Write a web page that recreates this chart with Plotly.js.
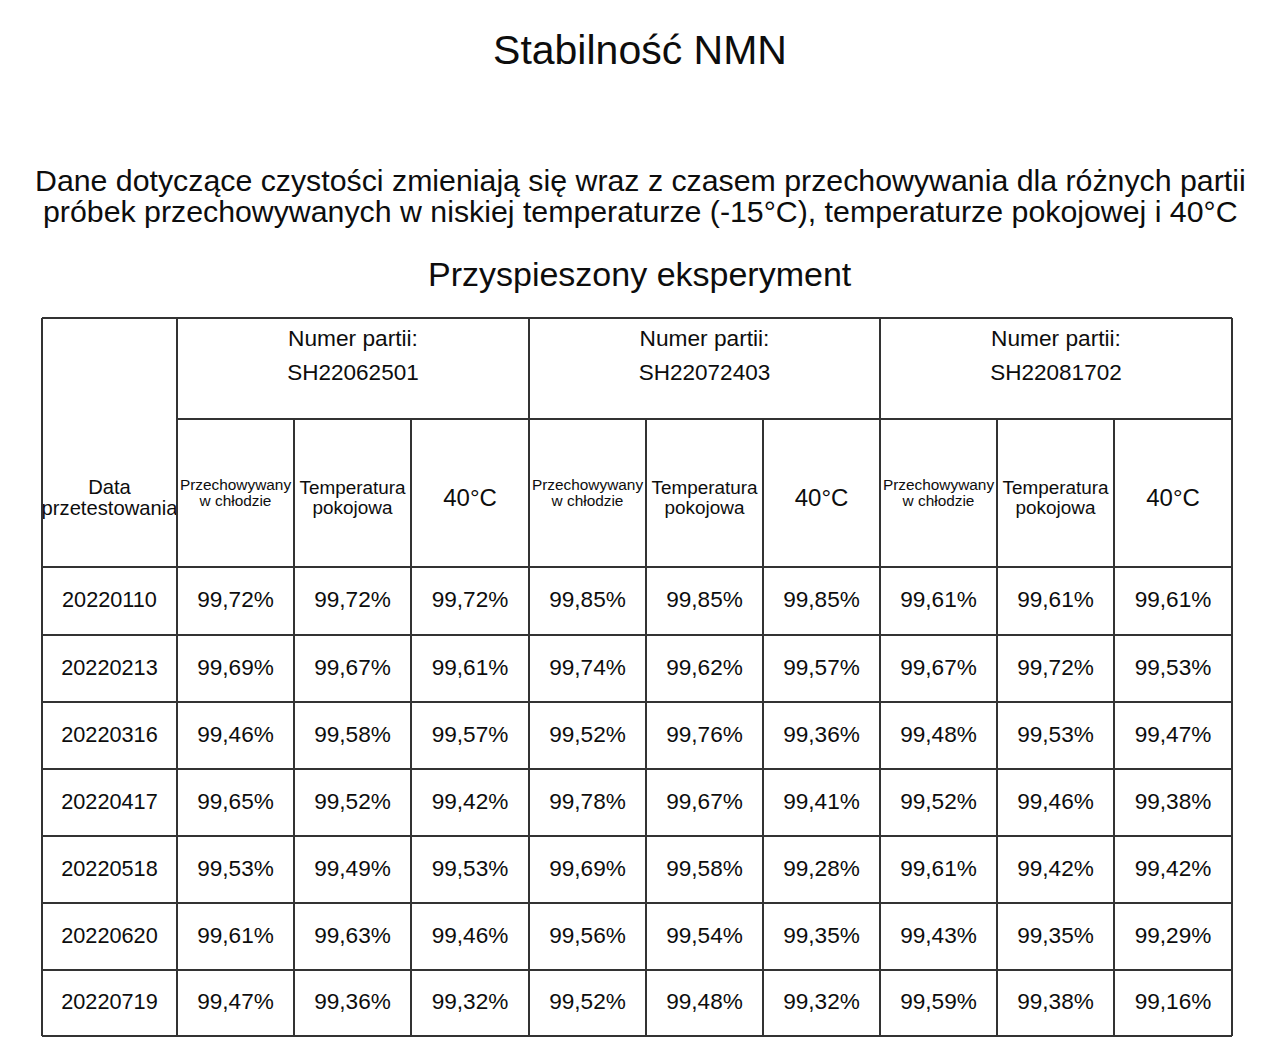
<!DOCTYPE html>
<html>
<head>
<meta charset="utf-8">
<script src="https://cdn.plot.ly/plotly-3.0.1.min.js"></script>
<style>html,body{margin:0;padding:0;background:#fff;}#chart{width:1280px;height:1053px;}</style>
</head>
<body>
<div id="chart"></div>
<script>
// ---- data ----
const dates = ['20220110','20220213','20220316','20220417','20220518','20220620','20220719'];
const batches = ['SH22062501','SH22072403','SH22081702'];
const conditions = ['Przechowywany<br>w chłodzie','Temperatura<br>pokojowa','40°C'];
const batchLabel = 'Numer partii:';
const dateHeader = 'Data<br>przetestowania';
const b1Cold = [99.72, 99.69, 99.46, 99.65, 99.53, 99.61, 99.47];
const b1Room = [99.72, 99.67, 99.58, 99.52, 99.49, 99.63, 99.36];
const b1Hot  = [99.72, 99.61, 99.57, 99.42, 99.53, 99.46, 99.32];
const b2Cold = [99.85, 99.74, 99.52, 99.78, 99.69, 99.56, 99.52];
const b2Room = [99.85, 99.62, 99.76, 99.67, 99.58, 99.54, 99.48];
const b2Hot  = [99.85, 99.57, 99.36, 99.41, 99.28, 99.35, 99.32];
const b3Cold = [99.61, 99.67, 99.48, 99.52, 99.61, 99.43, 99.59];
const b3Room = [99.61, 99.72, 99.53, 99.46, 99.42, 99.35, 99.38];
const b3Hot  = [99.61, 99.53, 99.47, 99.38, 99.42, 99.29, 99.16];
const titleText = 'Stabilność NMN';
const subtitle1 = 'Dane dotyczące czystości zmieniają się wraz z czasem przechowywania dla różnych partii';
const subtitle2 = 'próbek przechowywanych w niskiej temperaturze (-15°C), temperaturze pokojowej i 40°C';
const subtitle3 = 'Przyspieszony eksperyment';

// ---- layout geometry (page-pixel axis) ----
const colEdges = [42, 177, 294, 411, 529, 646, 763, 880, 997, 1114, 1232];
const rowEdges = [567, 635, 702, 769, 836, 903, 970, 1036];
const headTop = 318, headMid = 419, headBot = 567;
const lineColor = '#333333';
const textColor = '#0d0d0d';
const FONT = '"Liberation Sans", Arial, sans-serif';

const series = [b1Cold, b1Room, b1Hot, b2Cold, b2Room, b2Hot, b3Cold, b3Room, b3Hot];
const fmt = v => v.toFixed(2).replace('.', ',') + '%';
const mid = (a, b) => (a + b) / 2;
const rowCenters = dates.map((d, i) => mid(rowEdges[i], rowEdges[i + 1]));

const textTrace = (x, y, text, size) => ({
  type: 'scatter', mode: 'text', hoverinfo: 'skip', showlegend: false,
  x, y, text, textposition: 'middle center',
  textfont: {family: FONT, size, color: textColor}
});

const traces = [];
// date column
traces.push(textTrace(dates.map(() => mid(colEdges[0], colEdges[1])), rowCenters.map(y => y + 1), dates, 21.7));
// value columns
series.forEach((vals, c) => {
  traces.push(textTrace(vals.map(() => mid(colEdges[c + 1], colEdges[c + 2])), rowCenters.map(y => y + 0.5),
    vals.map(fmt), 22.6));
});
// condition sub-headers (each line placed separately for tight line spacing)
const condSizes = [15.4, 18.9, 24];
const condLineGap = [16, 20, 0];
const condMidY = [494, 499, 500];
batches.forEach((b, bi) => {
  conditions.forEach((c, ci) => {
    const k = bi * 3 + ci + 1;
    const lines = c.split('<br>');
    const cx = mid(colEdges[k], colEdges[k + 1]);
    const y0 = condMidY[ci] - condLineGap[ci] * (lines.length - 1) / 2;
    traces.push(textTrace(lines.map(() => cx), lines.map((l, li) => y0 + li * condLineGap[ci]), lines, condSizes[ci]));
  });
});
// batch headers
const batchX = batches.map((b, i) => mid(colEdges[1 + 3 * i], colEdges[4 + 3 * i]));
traces.push(textTrace(batchX, batches.map(() => 340), batches.map(() => batchLabel), 22.7));
traces.push(textTrace(batchX, batches.map(() => 374), batches, 22.5));
// date header
const dhLines = dateHeader.split('<br>');
traces.push(textTrace(dhLines.map(() => mid(colEdges[0], colEdges[1])), dhLines.map((l, i) => 489 + 21 * i), dhLines, 20.2));

// grid shapes
const shapes = [];
const L = (x0, y0, x1, y1) => shapes.push({type: 'line', xref: 'x', yref: 'y', x0, y0, x1, y1,
  line: {color: lineColor, width: 2}});
const xEnd = colEdges[colEdges.length - 1];
L(colEdges[0], headTop, xEnd, headTop);
L(colEdges[1], headMid, xEnd, headMid);
L(colEdges[0], headBot, xEnd, headBot);
rowEdges.slice(1).forEach(y => L(colEdges[0], y, xEnd, y));
colEdges.forEach((x, i) => {
  const isGroup = (i === 0 || i === 1 || (i - 1) % 3 === 0);
  L(x, isGroup ? headTop : headMid, x, rowEdges[rowEdges.length - 1]);
});

const layout = {
  width: 1280, height: 1053,
  margin: {l: 0, r: 0, t: 0, b: 0},
  paper_bgcolor: '#ffffff', plot_bgcolor: '#ffffff',
  title: {text: titleText, x: 0.5, xanchor: 'center', y: 1 - 50 / 1053, yanchor: 'middle',
    font: {family: FONT, size: 41, color: textColor}},
  xaxis: {range: [0, 1280], visible: false, fixedrange: true},
  yaxis: {range: [1053, 0], visible: false, fixedrange: true},
  shapes: shapes,
  annotations: [
    {text: subtitle1, x: 640, y: 180, xref: 'x', yref: 'y', showarrow: false, xanchor: 'center', yanchor: 'middle',
      font: {family: FONT, size: 30.3, color: textColor}},
    {text: subtitle2, x: 640, y: 211, xref: 'x', yref: 'y', showarrow: false, xanchor: 'center', yanchor: 'middle',
      font: {family: FONT, size: 30.3, color: textColor}},
    {text: subtitle3, x: 640, y: 274, xref: 'x', yref: 'y', showarrow: false, xanchor: 'center', yanchor: 'middle',
      font: {family: FONT, size: 34, color: textColor}}
  ],
  showlegend: false
};

Plotly.newPlot('chart', traces, layout, {staticPlot: true, displayModeBar: false});
</script>
</body>
</html>
